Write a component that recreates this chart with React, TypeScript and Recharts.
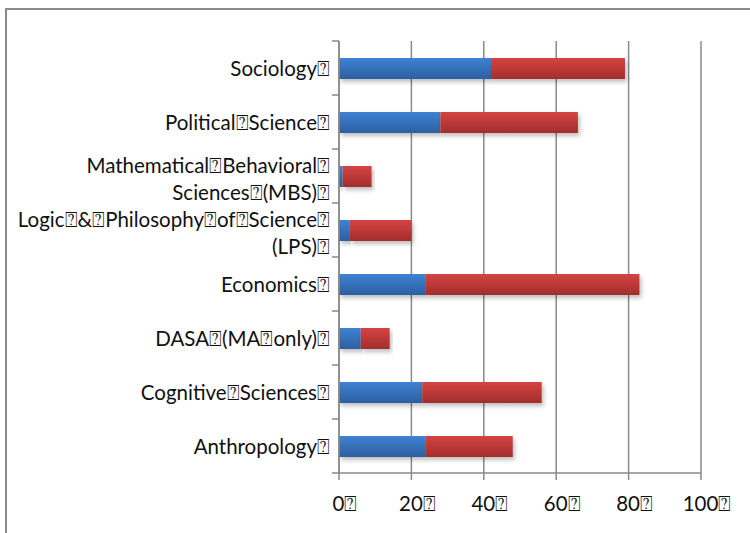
import React from "react";
import { BarChart, Bar, XAxis, YAxis, CartesianGrid } from "recharts";

const B = "\u2370";

const categories = [
  `Sociology${B}`,
  `Political${B}Science${B}`,
  `Mathematical${B}Behavioral${B}\nSciences${B}(MBS)${B}`,
  `Logic${B}&${B}Philosophy${B}of${B}Science${B}\n(LPS)${B}`,
  `Economics${B}`,
  `DASA${B}(MA${B}only)${B}`,
  `Cognitive${B}Sciences${B}`,
  `Anthropology${B}`,
];
const blueValues = [42, 28, 1, 3, 24, 6, 23, 24];
const redValues = [37, 38, 8, 17, 59, 8, 33, 24];
const xTicks = [0, 20, 40, 60, 80, 100];

const data = categories.map((c, i) => ({ name: c, blue: blueValues[i], red: redValues[i] }));

const FONT = "Lato, 'Open Sans', sans-serif";
const FS = 20.5;

const CatTick = (props: any) => {
  const { x, y, payload, index } = props;
  const lines: string[] = String(payload.value).split("\n");
  const half = 27;
  const offsets = lines.length === 1 ? [0] : [-11, 16];
  return (
    <g>
      <line x1={x + 2} x2={x + 9} y1={y - half} y2={y - half} stroke="#888" strokeWidth={1.5} />
      {index === categories.length - 1 && (
        <line x1={x + 2} x2={x + 9} y1={y + half} y2={y + half} stroke="#888" strokeWidth={1.5} />
      )}
      {lines.map((l, i) => (
        <text
          key={i}
          x={x}
          y={y + offsets[i]}
          textAnchor="end"
          dominantBaseline="central"
          fontSize={FS}
          fontFamily={FONT}
          fill="#111"
        >
          {l}
        </text>
      ))}
    </g>
  );
};

const XTick = (props: any) => {
  const { x, y, payload } = props;
  return (
    <text x={x + 6} y={y + 23} textAnchor="middle" dominantBaseline="central" fontSize={FS} fontFamily={FONT} fill="#111">
      {`${payload.value}${B}`}
    </text>
  );
};

export default function App() {
  return (
    <div style={{ position: "absolute", left: 0, top: 0, width: 750, height: 533, overflow: "hidden", background: "#fff" }}>
      <div
        style={{
          position: "absolute",
          left: 5,
          top: 8,
          width: 800,
          height: 600,
          border: "2px solid #8a8a8a",
        }}
      />
      <div style={{ position: "absolute", left: 0, top: 0 }}>
        <BarChart
          width={750}
          height={533}
          data={data}
          layout="vertical"
          margin={{ top: 41, right: 49, bottom: 10, left: 0 }}
          barSize={21}
        >
          <defs>
            <linearGradient id="gBlue" x1="0" y1="0" x2="0" y2="1">
              <stop offset="0%" stopColor="#3f82d4" />
              <stop offset="100%" stopColor="#2c5f9f" />
            </linearGradient>
            <linearGradient id="gRed" x1="0" y1="0" x2="0" y2="1">
              <stop offset="0%" stopColor="#d44443" />
              <stop offset="100%" stopColor="#a32d2c" />
            </linearGradient>
            <filter id="shadow" x="-5%" y="-20%" width="115%" height="160%">
              <feDropShadow dx="2" dy="3" stdDeviation="2" floodColor="#000" floodOpacity="0.25" />
            </filter>
          </defs>
          <CartesianGrid horizontal={false} vertical={true} stroke="#8a8a8a" strokeWidth={1.5} />
          <XAxis
            type="number"
            domain={[0, 100]}
            ticks={xTicks}
            height={50}
            tickSize={7}
            tickMargin={0}
            axisLine={{ stroke: "#8a8a8a", strokeWidth: 1.5 }}
            tickLine={{ stroke: "#8a8a8a", strokeWidth: 1.5 }}
            tick={<XTick />}
            interval={0}
          />
          <YAxis
            type="category"
            dataKey="name"
            width={339}
            tickSize={0}
            tickMargin={9}
            tickLine={false}
            axisLine={{ stroke: "#8a8a8a", strokeWidth: 1.5 }}
            tick={<CatTick />}
            interval={0}
          />
          <Bar dataKey="blue" stackId="a" fill="url(#gBlue)" filter="url(#shadow)" isAnimationActive={false} />
          <Bar dataKey="red" stackId="a" fill="url(#gRed)" filter="url(#shadow)" isAnimationActive={false} />
        </BarChart>
      </div>
    </div>
  );
}
